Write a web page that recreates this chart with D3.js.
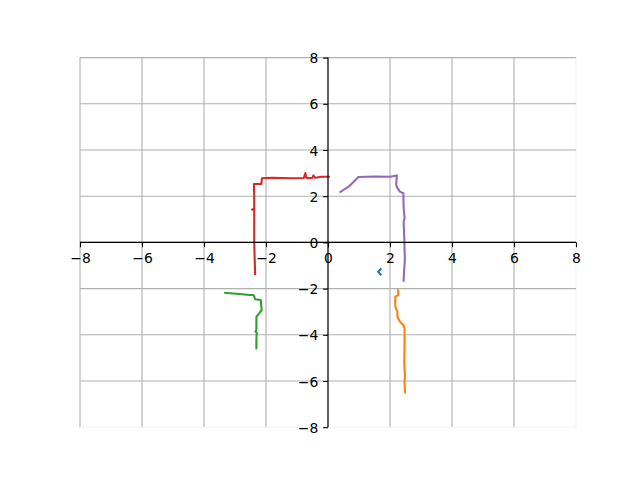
<!DOCTYPE html>
<html>
<head>
<meta charset="utf-8">
<script src="https://cdn.jsdelivr.net/npm/d3@7"></script>
<style>
body{margin:0;background:#fff;}
svg{display:block;font-family:"DejaVu Sans",sans-serif;}
</style>
</head>
<body>
<script>
const xTicks = [-8,-6,-4,-2,0,2,4,6,8];
const yTicks = [-8,-6,-4,-2,0,2,4,6,8];
const colors = ["#1f77b4","#ff7f0e","#2ca02c","#d62728","#9467bd"];
const blueX = [1.72,1.69,1.62,1.67,1.72];
const blueY = [-1.12,-1.17,-1.27,-1.35,-1.42];
const orangeX = [2.26,2.27,2.17,2.17,2.24,2.24,2.32,2.43,2.47,2.47,2.46,2.48,2.47,2.49];
const orangeY = [-2.03,-2.28,-2.35,-2.78,-3.00,-3.22,-3.43,-3.58,-3.72,-4.40,-5.24,-5.70,-6.10,-6.54];
const greenX = [-3.35,-2.95,-2.52,-2.40,-2.35,-2.17,-2.14,-2.31,-2.31,-2.34,-2.30,-2.31,-2.31];
const greenY = [-2.18,-2.22,-2.28,-2.28,-2.46,-2.49,-2.93,-3.22,-3.79,-3.86,-3.90,-4.20,-4.63];
const redX = [-2.35,-2.37,-2.38,-2.38,-2.45,-2.38,-2.38,-2.39,-2.15,-2.13,-1.80,-1.20,-0.78,-0.73,-0.70,-0.62,-0.50,-0.47,-0.42,-0.20,0.06];
const redY = [-1.41,-0.50,0.10,1.40,1.42,1.44,2.00,2.53,2.53,2.78,2.80,2.78,2.79,3.00,2.80,2.78,2.80,2.90,2.80,2.84,2.84];
const purpleX = [0.37,0.70,0.98,1.50,2.00,2.22,2.20,2.24,2.32,2.43,2.44,2.47,2.44,2.46,2.48,2.45,2.44];
const purpleY = [2.16,2.45,2.83,2.85,2.84,2.90,2.49,2.35,2.20,2.13,1.50,1.05,0.90,0.20,-0.76,-1.30,-1.70];

const W=640,H=480;
const L=80,R=576,T=57.6,B=427.2;
const x=d3.scaleLinear().domain([-8,8]).range([L,R]);
const y=d3.scaleLinear().domain([-8,8]).range([B,T]);
const svg=d3.select("body").append("svg").attr("width",W).attr("height",H);
svg.append("rect").attr("width",W).attr("height",H).attr("fill","#fff");

// grid
const g=svg.append("g");
xTicks.forEach(t=>{
  const edge = t===8;
  g.append("line").attr("x1",x(t)).attr("x2",x(t)).attr("y1",T).attr("y2",B)
   .attr("stroke",edge?"#f2f2f2":"#b0b0b0").attr("stroke-width",1.1);
});
yTicks.forEach(t=>{
  const edge = t===-8;
  g.append("line").attr("x1",L).attr("x2",R).attr("y1",y(t)).attr("y2",y(t))
   .attr("stroke",edge?"#f2f2f2":"#b0b0b0").attr("stroke-width",1.1);
});

// lines
const series=[[blueX,blueY],[orangeX,orangeY],[greenX,greenY],[redX,redY],[purpleX,purpleY]];
const line=d3.line().x(d=>x(d[0])).y(d=>y(d[1]));
series.forEach((s,i)=>{
  const pts=s[0].map((v,j)=>[v,s[1][j]]);
  svg.append("path").attr("d",line(pts)).attr("fill","none")
    .attr("stroke",colors[i]).attr("stroke-width",2.08).attr("stroke-linejoin","round").attr("stroke-linecap","butt");
});

// axes through zero
const fmt=d=>d<0?"\u2212"+Math.abs(d):String(d);
const xAxis=d3.axisBottom(x).tickValues(xTicks).tickSize(4.86).tickPadding(4.86).tickFormat(fmt);
const yAxis=d3.axisLeft(y).tickValues(yTicks).tickSize(4.86).tickPadding(4.86).tickFormat(fmt);
const gx=svg.append("g").attr("transform",`translate(0,${y(0)})`).call(xAxis);
const gy=svg.append("g").attr("transform",`translate(${x(0)},0)`).call(yAxis);
[gx,gy].forEach(a=>{
  a.select(".domain").attr("stroke","#000").attr("stroke-width",1.1);
  a.selectAll(".tick line").attr("stroke","#000").attr("stroke-width",1.1);
  a.selectAll(".tick text").attr("fill","#000").attr("font-size","13.9px").attr("font-family","DejaVu Sans");
});
gx.selectAll(".tick text").attr("dy","0.76em");
gy.selectAll(".tick text").attr("dy","0.36em");
gx.select(".domain").attr("d",`M${L},0H${R}`);
gy.select(".domain").attr("d",`M0,${T}V${B}`);
</script>
</body>
</html>
